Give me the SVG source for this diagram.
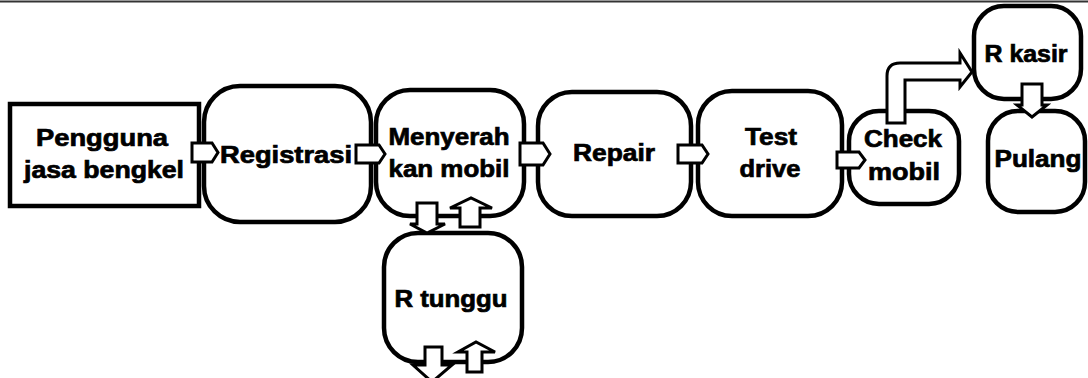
<svg xmlns="http://www.w3.org/2000/svg" width="1088" height="378" viewBox="0 0 1088 378">
<style>
.box{fill:#fff;stroke:#000;stroke-width:4.5}
.arr{fill:#fff;stroke:#000;stroke-width:3;stroke-linejoin:miter}
text{font-family:"Liberation Sans",Arial,sans-serif;font-weight:bold;font-size:23px;fill:#000;stroke:#000;stroke-width:0.7;text-anchor:middle}
</style>
<rect width="1088" height="378" fill="#fff"/>
<line x1="0" y1="1.5" x2="1088" y2="1.5" stroke="#333" stroke-width="2"/>
<g id="pengguna">
<rect class="box" x="10" y="104" width="189" height="102"/>
<text x="102" y="146" textLength="132" lengthAdjust="spacingAndGlyphs">Pengguna</text>
<text x="104" y="178" textLength="160" lengthAdjust="spacingAndGlyphs">jasa bengkel</text>
</g>
<g id="registrasi">
<rect class="box" x="204" y="86" width="167" height="136" rx="36"/>
<text x="286" y="163" textLength="132" lengthAdjust="spacingAndGlyphs">Registrasi</text>
</g>
<g id="menyerah">
<rect class="box" x="376" y="90" width="148" height="126" rx="34"/>
<text x="449" y="145" textLength="121" lengthAdjust="spacingAndGlyphs">Menyerah</text>
<text x="449" y="177" textLength="121" lengthAdjust="spacingAndGlyphs">kan mobil</text>
</g>
<g id="repair">
<rect class="box" x="538" y="92" width="153" height="124" rx="34"/>
<text x="614" y="161" textLength="82" lengthAdjust="spacingAndGlyphs">Repair</text>
</g>
<g id="testdrive">
<rect class="box" x="698" y="91" width="144" height="125" rx="34"/>
<text x="771" y="145" textLength="52" lengthAdjust="spacingAndGlyphs">Test</text>
<text x="770" y="177" textLength="61" lengthAdjust="spacingAndGlyphs">drive</text>
</g>
<g id="checkmobil">
<rect class="box" x="849" y="111" width="110" height="93" rx="30"/>
<text x="903" y="147" textLength="78" lengthAdjust="spacingAndGlyphs">Check</text>
<text x="904" y="180" textLength="72" lengthAdjust="spacingAndGlyphs">mobil</text>
</g>
<g id="rkasir">
<rect class="box" x="974" y="6" width="107" height="93" rx="30"/>
<text x="1026" y="62" textLength="83" lengthAdjust="spacingAndGlyphs">R kasir</text>
</g>
<g id="pulang">
<rect class="box" x="988" y="111" width="97" height="101" rx="30"/>
<text x="1038" y="167" textLength="87" lengthAdjust="spacingAndGlyphs">Pulang</text>
</g>
<g id="rtunggu">
<rect class="box" x="384" y="233" width="138" height="129" rx="34"/>
<text x="451" y="307" textLength="113" lengthAdjust="spacingAndGlyphs">R tunggu</text>
</g>
<g id="connectors">
<polygon class="arr" points="192,143 212,143 218,152.5 212,162 192,162"/>
<polygon class="arr" points="356,145 379,145 385,154 379,163 356,163"/>
<polygon class="arr" points="520,143 543,143 550,154 543,165 520,165"/>
<polygon class="arr" points="678,145 702,145 708,154 702,163 678,163"/>
<polygon class="arr" points="837,152 859,152 865,160 859,168 837,168"/>
<path class="arr" d="M887,123 V76 Q887,63 900,63 H960 V53 L972,72 L960,87 V80 H905 V123 Z"/>
<polygon class="arr" points="1022,84 1042,84 1042,105 1047,105 1032,117 1017,105 1022,105"/>
<polygon class="arr" points="417,203 437,203 437,224 445,224 427,233 410,224 417,224"/>
<polygon class="arr" points="460,227 480,227 480,208 492,208 471,198 450,208 460,208"/>
<polygon class="arr" points="425,347 442,347 442,365 452,365 432,382 413,365 425,365"/>
<polygon class="arr" points="467,372 482,372 482,352 495,352 476,342 458,352 467,352"/>
</g>
</svg>
